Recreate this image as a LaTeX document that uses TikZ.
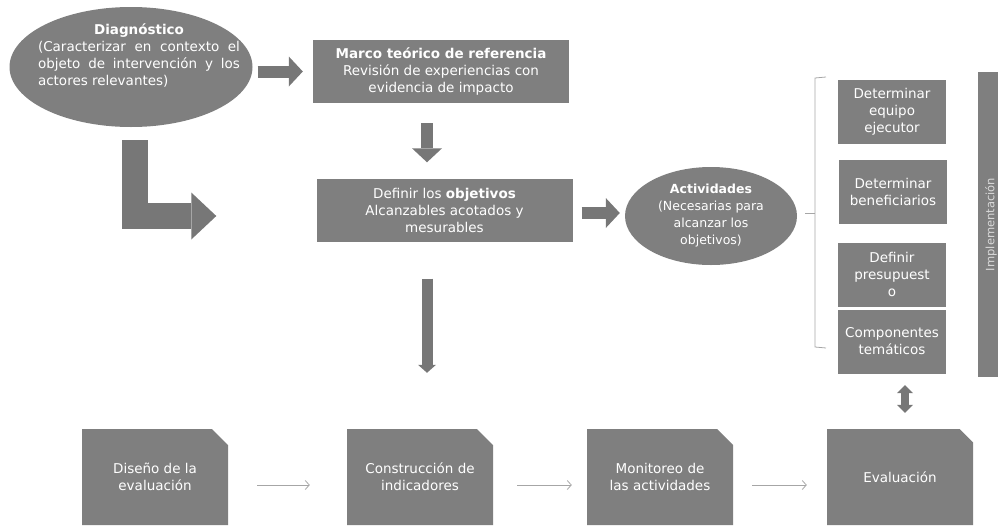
\documentclass[tikz,border=0pt]{standalone}
\usepackage{fontspec}
\setmainfont{DejaVu Sans}
\usetikzlibrary{arrows.meta,shapes.geometric,shapes.misc}

\definecolor{boxgray}{HTML}{7F7F7F}
\definecolor{arrowgray}{HTML}{777777}
\definecolor{linegray}{HTML}{A6A6A6}
\newcommand{\boxfont}{\fontsize{13.5}{17}\selectfont}
\newcommand{\ovalfont}{\fontsize{12.5}{17}\selectfont}

\tikzset{
box/.style={rectangle, fill=boxgray, text=white, font=\boxfont,
align=center, inner sep=2pt},
widebox/.style={box, minimum width=256pt, minimum height=63pt},
sidebox/.style={box, minimum width=108pt, minimum height=64pt},
oval/.style={ellipse, fill=boxgray, text=white, font=\ovalfont,
align=center, inner sep=0pt},
ovaltext/.style={text=white, font=\boxfont, inner sep=0pt},
stepbox/.style={chamfered rectangle, chamfered rectangle corners=north east,
chamfered rectangle xsep=8pt, chamfered rectangle ysep=8pt,
fill=boxgray, text=white, font=\boxfont, align=center,
minimum width=146pt, minimum height=96pt, inner sep=0pt},
sidebar/.style={rectangle, fill=boxgray, text=gray!30, font=\fontsize{11.5}{13}\selectfont,
inner sep=0pt, rotate=90},
bigarrow/.style={draw=arrowgray, line width=12pt,
-{Triangle[width=30pt,length=14pt,line width=0pt]}},
elbowarrow/.style={draw=arrowgray, line width=26pt, line join=miter,
-{Triangle[width=47pt,length=25pt,line width=0pt]}},
longarrow/.style={draw=arrowgray, line width=11pt,
-{Triangle[width=18pt,length=8pt,line width=0pt]}},
dblarrow/.style={draw=arrowgray, line width=8pt,
{Triangle[width=16pt,length=8pt,line width=0pt]}-{Triangle[width=16pt,length=8pt,line width=0pt]}},
thinarrow/.style={draw=linegray, line width=0.8pt,
-{Straight Barb[length=4pt,width=9pt]}},
bracket/.style={draw=linegray, line width=0.8pt}
}

\begin{document}
\begin{tikzpicture}[x=1pt, y=-1pt]
% 1pt = 1px of the 998x525 picture
\useasboundingbox (0, 0) rectangle (998, 525);
\node[oval, minimum width=243pt, minimum height=120pt] (diag) at (131, 67) {};
	\node[ovaltext, text width=202pt, align=justify] (diagtext) at (139, 55)
	{\noindent\makebox[\linewidth]{\textbf{Diagnóstico}}\\
	(Caracterizar en contexto el\linebreak objeto de intervención y los\linebreak actores relevantes)};
\node[widebox] (marco) at (441, 71.5)
	{\textbf{Marco teórico de referencia}\\Revisión de experiencias con\\evidencia de impacto};
\node[widebox] (definir) at (444.5, 210)
	{Definir los \textbf{objetivos}\\Alcanzables acotados y\\mesurables};
\node[oval, minimum width=172pt, minimum height=98pt] (act) at (711, 216)
	{\textbf{Actividades}\\(Necesarias para\\alcanzar los\\objetivos)};
% lista de la implementacion
\node[sidebox] (equipo) at (892, 112) {Determinar\\equipo\\ejecutor};
\node[sidebox] (benef) at (893, 192) {Determinar\\beneficiarios};
\node[sidebox] (presup) at (892, 274.5) {Definir\\presupuest\\o};
\node[sidebox] (comp) at (892, 341.5) {Componentes\\temáticos};
\node[sidebar, minimum width=305pt, minimum height=26pt] (impl) at (991, 224.5) {Implementación};
\coordinate (brace) at (815, 213);
\draw[bracket] (826, 77) -- (815, 78) -- (815, 347) -- (826, 348);
\draw[bracket] (brace) -- ++(-10, 0);
% fila de la evaluacion
\node[stepbox] (design) at (155, 477) {Diseño de la\\evaluación};
\node[stepbox] (constr) at (420, 477) {Construcción de\\indicadores};
\node[stepbox] (monit) at (660, 477) {Monitoreo de\\las actividades};
\node[stepbox] (eval) at (900, 477) {Evaluación};
% flechas
\draw[bigarrow, shorten <=5pt, shorten >=10pt] (diag.east |- marco.west) -- (marco.west);
\draw[bigarrow, shorten <=20pt, shorten >=16pt] ([xshift=-14pt]marco.south) -- ([xshift=-14pt]marco.south |- definir.north);
\draw[elbowarrow, shorten <=13pt, shorten >=100pt] ([xshift=4pt]diag.south) |- ([yshift=-6pt]definir.west);
\draw[bigarrow, shorten <=9pt, shorten >=5pt] ([yshift=-3pt]definir.east) -- ([yshift=-3pt]definir.east -| act.west);
\draw[longarrow, shorten <=37pt, shorten >=56pt] ([xshift=-17.5pt]definir.south) -- ([xshift=-17.5pt]definir.south |- constr.north);
\draw[dblarrow, shorten <=11.5pt, shorten >=16pt] ([xshift=13pt]comp.south) -- ([xshift=13pt]comp.south |- eval.north);
\draw[thinarrow, shorten <=29pt, shorten >=37pt] ([yshift=-8pt]design.east) -- ([yshift=-8pt]constr.west);
\draw[thinarrow, shorten <=24pt, shorten >=15pt] ([yshift=-8pt]constr.east) -- ([yshift=-8pt]monit.west);
\draw[thinarrow, shorten <=19pt, shorten >=20pt] ([yshift=-8pt]monit.east) -- ([yshift=-8pt]eval.west);
\end{tikzpicture}
\end{document}
